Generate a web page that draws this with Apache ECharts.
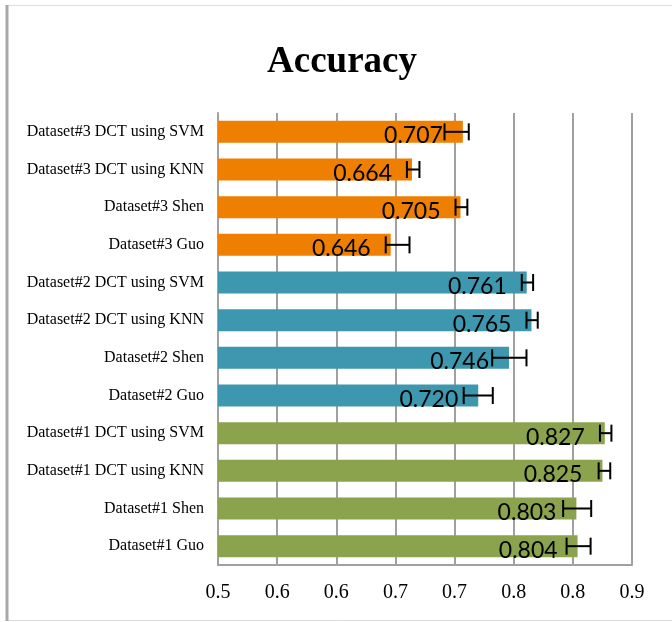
<!DOCTYPE html>
<html>
<head>
<meta charset="utf-8">
<script src="https://cdn.jsdelivr.net/npm/echarts@6/dist/echarts.min.js"></script>
<style>
html,body{margin:0;padding:0;background:#fff;}
#chart{width:672px;height:622px;}
</style>
</head>
<body>
<div id="chart"></div>
<script>
// Categories listed bottom to top
const categories = [
  'Dataset#1 Guo', 'Dataset#1 Shen', 'Dataset#1 DCT using KNN', 'Dataset#1 DCT using SVM',
  'Dataset#2 Guo', 'Dataset#2 Shen', 'Dataset#2 DCT using KNN', 'Dataset#2 DCT using SVM',
  'Dataset#3 Guo', 'Dataset#3 Shen', 'Dataset#3 DCT using KNN', 'Dataset#3 DCT using SVM'
];
const accuracy = [0.804, 0.803, 0.825, 0.827, 0.720, 0.746, 0.765, 0.761, 0.646, 0.705, 0.664, 0.707];
const errLow  = [0.7947, 0.7918, 0.8218, 0.8229, 0.7077, 0.7318, 0.7608, 0.7568, 0.6418, 0.7008, 0.6597, 0.6915];
const errHigh = [0.8150, 0.8155, 0.8316, 0.8326, 0.7323, 0.7608, 0.7703, 0.7664, 0.6619, 0.7108, 0.6703, 0.7120];
const groupOf = [0,0,0,0,1,1,1,1,2,2,2,2];
const groupColors = ['#8BA34D', '#3D97AE', '#EF7F00'];
const tickLabels = ['0.5', '0.6', '0.6', '0.7', '0.7', '0.8', '0.8', '0.9'];

const chart = echarts.init(document.getElementById('chart'));
const serif = '"Liberation Serif", "Times New Roman", serif';

chart.setOption({
  animation: false,
  backgroundColor: '#fff',
  title: {
    text: 'Accuracy',
    left: 262,
    top: 39,
    textStyle: { fontFamily: serif, fontWeight: 'bold', fontSize: 37, color: '#000' }
  },
  graphic: [
    { type: 'rect', shape: { x: 6.5, y: 5.5, width: 720, height: 615 }, style: { fill: 'none', stroke: '#dcdcdc', lineWidth: 1 }, silent: true },
    { type: 'line', shape: { x1: 7, y1: 5, x2: 7, y2: 621 }, style: { stroke: '#a8a8a8', lineWidth: 3 }, silent: true }
  ],
  grid: { left: 218, right: 40, top: 113, height: 452, containLabel: false },
  xAxis: {
    type: 'value',
    min: 0.5, max: 0.85, interval: 0.05,
    axisLine: { show: true, lineStyle: { color: '#a0a0a0', width: 2 } },
    axisTick: { show: false },
    splitLine: { show: true, lineStyle: { color: '#a0a0a0', width: 2 } },
    axisLabel: {
      margin: 18,
      fontFamily: serif, fontSize: 20, color: '#000',
      formatter: v => tickLabels[Math.round((v - 0.5) / 0.05)]
    }
  },
  yAxis: {
    type: 'category',
    data: categories,
    axisLine: { show: true, lineStyle: { color: '#a0a0a0', width: 2 } },
    axisTick: { show: false },
    axisLabel: { margin: 14, fontFamily: serif, fontSize: 16, color: '#000' }
  },
  series: [
    {
      type: 'bar',
      barWidth: 22,
      data: accuracy.map((v, i) => ({ value: v, itemStyle: { color: groupColors[groupOf[i]] } })),
      label: {
        show: true,
        position: 'insideRight',
        distance: 20,
        offset: [0, 4],
        fontFamily: 'Lato, "Open Sans", sans-serif',
        fontSize: 23,
        color: '#000',
        formatter: p => p.value.toFixed(3)
      },
      z: 2
    },
    {
      type: 'custom',
      z: 5,
      data: categories.map((c, i) => [errLow[i], errHigh[i], i]),
      encode: { x: [0, 1], y: 2 },
      renderItem: function (params, api) {
        const idx = api.value(2);
        const p1 = api.coord([api.value(0), idx]);
        const p2 = api.coord([api.value(1), idx]);
        const h = 8.5;
        const st = { stroke: '#000', lineWidth: 2 };
        return {
          type: 'group',
          children: [
            { type: 'line', shape: { x1: p1[0], y1: p1[1], x2: p2[0], y2: p2[1] }, style: st },
            { type: 'line', shape: { x1: p1[0], y1: p1[1] - h, x2: p1[0], y2: p1[1] + h }, style: st },
            { type: 'line', shape: { x1: p2[0], y1: p2[1] - h, x2: p2[0], y2: p2[1] + h }, style: st }
          ]
        };
      }
    }
  ]
});
</script>
</body>
</html>
